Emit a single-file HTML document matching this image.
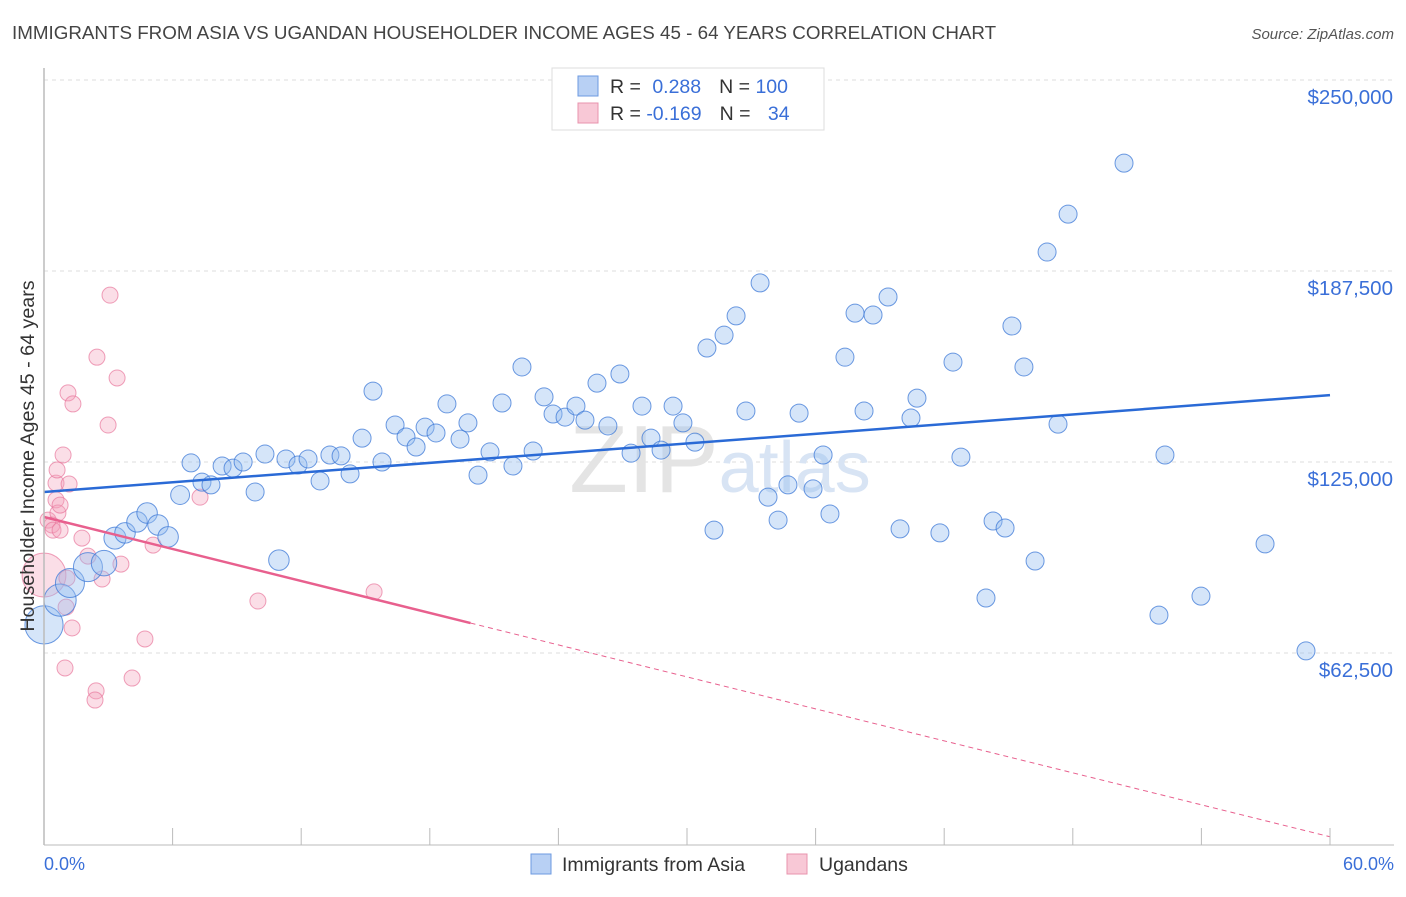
<!DOCTYPE html>
<html><head><meta charset="utf-8"><style>
body{margin:0;background:#fff;font-family:"Liberation Sans",sans-serif;}
svg text{font-family:"Liberation Sans",sans-serif;}
</style></head><body>
<svg id="chart" width="1406" height="892" viewBox="0 0 1406 892" xmlns="http://www.w3.org/2000/svg">
<text x="12" y="39" font-size="18.8" fill="#444">IMMIGRANTS FROM ASIA VS UGANDAN HOUSEHOLDER INCOME AGES 45 - 64 YEARS CORRELATION CHART</text>
<text x="1394" y="39" font-size="15" fill="#555" font-style="italic" text-anchor="end">Source: ZipAtlas.com</text>
<g id="grid"></g>
<text x="720" y="492" font-size="96" fill="#e4e4e4" text-anchor="middle" font-family="Liberation Serif">ZIP<tspan fill="#d8e4f4" font-family="Liberation Sans" font-size="72">atlas</tspan></text>
<g id="pts"></g>
<g id="lines"></g>
<line x1="44" y1="68" x2="44" y2="845" stroke="#bbb" stroke-width="1.5"/>
<line x1="44" y1="845" x2="1394" y2="845" stroke="#bbb" stroke-width="1"/>
<g id="axes"></g>
<text transform="translate(34,456) rotate(-90)" font-size="19.7" fill="#333" text-anchor="middle">Householder Income Ages 45 - 64 years</text>
<text x="44" y="870" font-size="18" fill="#3a6fd8">0.0%</text>
<text x="1394" y="870" font-size="18" fill="#3a6fd8" text-anchor="end">60.0%</text>
<g>
<rect x="552" y="68" width="272" height="62" fill="#fff" stroke="#ddd"/>
<rect x="578" y="76" width="20" height="20" fill="#b8d0f4" stroke="#6d9ae0"/>
<rect x="578" y="103" width="20" height="20" fill="#f8c8d6" stroke="#e893ad"/>
<text x="610" y="93" font-size="19.5" fill="#333">R = <tspan fill="#3a6fd8" dx="6">0.288</tspan><tspan dx="18">N = </tspan><tspan fill="#3a6fd8">100</tspan></text>
<text x="610" y="120" font-size="19.5" fill="#333">R = <tspan fill="#3a6fd8">-0.169</tspan><tspan dx="18">N = </tspan><tspan fill="#3a6fd8" dx="12">34</tspan></text>
</g>
<g>
<rect x="531" y="854" width="20" height="20" fill="#b8d0f4" stroke="#6d9ae0"/>
<text x="562" y="871" font-size="19.5" fill="#333">Immigrants from Asia</text>
<rect x="787" y="854" width="20" height="20" fill="#f8c8d6" stroke="#e893ad"/>
<text x="819" y="871" font-size="19.5" fill="#333">Ugandans</text>
</g>
</svg>
<script>
const yTicks=[62.5,125,187.5,250];
const yTickLabels=["$62,500","$125,000","$187,500","$250,000"];
const xTicks=[0,6,12,18,24,30,36,42,48,54,60];
const blueX=[0,0.75,1.21,2.05,2.8,3.31,3.78,4.34,4.81,5.32,5.79,6.35,6.86,7.37,7.79,8.31,8.82,9.29,9.85,10.31,10.96,11.29,11.85,12.32,12.88,13.34,13.86,14.28,14.84,15.35,15.77,16.38,16.89,17.36,17.78,18.29,18.8,19.41,19.78,20.25,20.81,21.37,21.88,22.3,22.82,23.33,23.75,24.31,24.82,25.24,25.8,26.31,26.87,27.39,27.9,28.32,28.79,29.35,29.81,30.37,30.93,31.26,31.73,32.29,32.75,33.41,33.78,34.25,34.71,35.23,35.88,36.35,36.67,37.37,37.84,38.26,38.68,39.38,39.94,40.45,40.73,41.8,42.41,42.78,43.95,44.28,44.84,45.16,45.72,46.24,46.8,47.31,47.78,50.39,52.02,52.3,53.98,56.97,58.88];
const blueY=[71.7,79.8,85.4,90.6,91.9,100.1,101.8,105.4,108.3,104.4,100.5,114.2,124.7,118.4,117.5,123.7,123.0,125.0,115.2,127.6,92.9,126.0,124.0,126.0,118.8,127.3,127.0,121.1,132.8,148.2,125.0,137.1,133.2,129.9,136.4,134.5,144.0,132.5,137.8,120.7,128.3,144.3,123.7,156.1,128.6,146.3,140.7,139.7,143.3,138.7,150.8,136.8,153.8,127.9,143.3,132.8,128.9,143.3,137.8,131.5,162.3,102.7,166.5,172.8,141.7,183.6,113.5,106.0,117.5,141.0,116.2,127.3,108.0,159.3,173.7,141.7,173.1,179.0,103.1,139.4,145.9,101.8,157.7,126.6,80.5,105.7,103.4,169.5,156.1,92.6,193.7,137.4,206.1,222.8,74.9,127.3,81.1,98.2,63.2];
const blueW=[4.5,3.2,2.6,2.6,2,1.5,1.3,1.3,1.3,1.3,1.3,1.1,1,1,1,1,1,1,1,1,1.3];
const pinkX=[0,0.19,0.37,0.42,0.56,0.61,0.56,0.65,0.75,0.89,1.03,1.07,1.17,1.31,0.98,1.12,1.35,1.77,2.05,2.43,2.38,2.47,2.71,2.99,3.08,3.41,3.59,4.11,4.71,5.09,7.28,9.98,15.4,0.75];
const pinkY=[88.0,106.0,104.4,102.7,118.1,122.4,112.6,108.3,110.9,127.3,77.5,87.0,117.8,70.7,57.6,147.6,144.0,100.1,94.2,50.1,47.1,159.3,86.7,137.1,179.6,152.5,91.6,54.3,67.1,97.8,113.5,79.5,82.5,102.7];
const pinkW=[7.5];
const blueTrend=[115.2,146.9];
const pinkTrend=[107.0,-1.744];
const pinkSolidEnd=19.9;

const X=v=>44+v/60*1286;
const Y=v=>844-v/62.5*191;
const NS="http://www.w3.org/2000/svg";
function mk(tag,attrs,parent){const e=document.createElementNS(NS,tag);for(const k in attrs)e.setAttribute(k,attrs[k]);parent.appendChild(e);return e;}
const grid=document.getElementById('grid'),axes=document.getElementById('axes'),pts=document.getElementById('pts'),lines=document.getElementById('lines');
const gl=mk('line',{x1:44,y1:80,x2:1394,y2:80,stroke:'#ddd','stroke-dasharray':'4,4'},grid);


yTicks.forEach((t,i)=>{
 const l=mk('line',{x1:44,y1:Y(t),x2:1394,y2:Y(t),stroke:'#ddd','stroke-dasharray':'4,4'},grid);
 
 
 const tx=mk('text',{x:1393,y:Y(t)+24,'font-size':20.5,fill:'#3a6fd8','text-anchor':'end'},axes);
 tx.textContent=yTickLabels[i];
 
 
});
xTicks.forEach(t=>{
 const l=mk('line',{x1:X(t),y1:828,x2:X(t),y2:845,stroke:'#bbb'},axes);
 
 
});
pinkX.forEach((x,i)=>{
 const w=pinkW[i]||1;
 const c=mk('circle',{cx:X(x),cy:Y(pinkY[i]),r:8*Math.sqrt(w),fill:'rgba(244,160,186,0.35)',stroke:'rgba(232,120,156,0.7)','stroke-width':1},pts);
 
 
});
blueX.forEach((x,i)=>{
 const w=blueW[i]||1;
 const c=mk('circle',{cx:X(x),cy:Y(blueY[i]),r:9*Math.sqrt(w),fill:'rgba(150,190,240,0.4)',stroke:'rgba(60,120,215,0.75)','stroke-width':1},pts);
 
 
});
const bl=mk('line',{x1:X(0),y1:Y(blueTrend[0]),x2:X(60),y2:Y(blueTrend[1]),stroke:'#2a6ad6','stroke-width':2.5},lines);


const pf=v=>pinkTrend[0]+pinkTrend[1]*v;
const pl=mk('line',{x1:X(0),y1:Y(pf(0)),x2:X(pinkSolidEnd),y2:Y(pf(pinkSolidEnd)),stroke:'#e8608e','stroke-width':2.5},lines);


const pd=mk('line',{x1:X(pinkSolidEnd),y1:Y(pf(pinkSolidEnd)),x2:X(60),y2:Y(pf(60)),stroke:'#e8608e','stroke-width':1,'stroke-dasharray':'5,4'},lines);


</script>
</body></html>
